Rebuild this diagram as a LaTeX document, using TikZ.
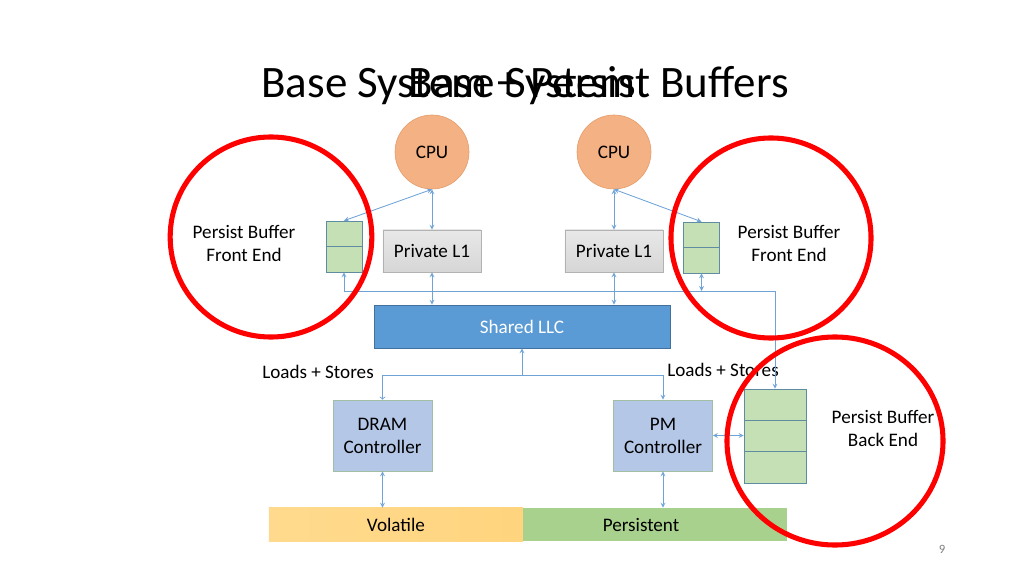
\documentclass[tikz,border=0pt]{standalone}
\usepackage{fontspec}
\setmainfont{Carlito}
\usetikzlibrary{shapes.geometric, arrows}
\definecolor{cpuorange}{HTML}{F4B183}
\definecolor{cpuedge}{HTML}{E39A68}
\definecolor{llcblue}{HTML}{5B9BD5}
\definecolor{llcedge}{HTML}{41719C}
\definecolor{ctrlblue}{HTML}{B4C7E7}
\definecolor{ctrledge}{HTML}{A3BDA3}
\definecolor{bufgreen}{HTML}{C5E0B4}
\definecolor{bufedge}{HTML}{5F8CA0}
\definecolor{wireblue}{HTML}{6FA3D6}
\definecolor{volyellow}{HTML}{FFDA8E}
\definecolor{volorange}{HTML}{FFD47E}
\definecolor{pergreen}{HTML}{A9D18E}
\tikzstyle{cpu} = [circle, minimum size=1.85cm, text centered, draw=cpuedge, fill=cpuorange, font=\fontsize{13.6}{16}\selectfont]
\tikzstyle{cache} = [rectangle, minimum width=2.45cm, minimum height=1.05cm, text centered, draw=gray!60, top color=gray!18, bottom color=gray!32, font=\fontsize{13.6}{16}\selectfont]
\tikzstyle{llcbox} = [rectangle, minimum width=7.4cm, minimum height=1.075cm, text centered, draw=llcedge, fill=llcblue, text=white, font=\fontsize{13.6}{16}\selectfont]
\tikzstyle{ctrl} = [rectangle, minimum width=2.475cm, minimum height=1.775cm, align=center, draw=ctrledge, fill=ctrlblue, font=\fontsize{13.6}{16.4}\selectfont]
\tikzstyle{frontend} = [rectangle, minimum width=0.9cm, minimum height=1.275cm, draw=bufedge, fill=bufgreen]
\tikzstyle{backend} = [rectangle, minimum width=1.55cm, minimum height=2.35cm, draw=bufedge, fill=bufgreen]
\tikzstyle{memory} = [rectangle, minimum height=0.825cm, text centered, font=\fontsize{13.6}{16}\selectfont]
\tikzstyle{label} = [align=center, font=\fontsize{13.6}{16.4}\selectfont]
\tikzstyle{arrow} = [draw=wireblue, line width=0.6pt, ->, >=stealth]
\tikzstyle{dbarrow} = [draw=wireblue, line width=0.6pt, <->, >=stealth]
\tikzstyle{ring} = [draw=red, line width=3.6pt]
\begin{document}
\begin{tikzpicture}[x=0.025cm, y=-0.025cm]
	\useasboundingbox (0,0) rectangle (1024,576);
	% title (two overlapping titles)
	\node (title) [font=\fontsize{32}{36}\selectfont, anchor=base] at (525,98) {Base System + Persist Buffers};
	\node (title2) [font=\fontsize{32}{36}\selectfont, anchor=base] at (522,98) {Base System};
	% cores
	\node (cpuA) [cpu] at (432,152) {CPU};
	\node (cpuB) [cpu] at (614,152) {CPU};
	\node (l1A) [cache] at (432,251) {Private L1};
	\node (l1B) [cache] at (614,251) {Private L1};
	\node (feA) [frontend] at (344,246.5) {};
	\node (feB) [frontend] at (701.5,247.5) {};
	\draw [bufedge] (feA.west) -- (feA.east);
	\draw [bufedge] (feB.west) -- (feB.east);
	\node (llc) [llcbox] at (522,326.5) {Shared LLC};
	% memory side
	\node (dram) [ctrl] at (382.5,435.5) {DRAM\\Controller};
	\node (pm) [ctrl] at (663,435.5) {PM\\Controller};
	\node (be) [backend] at (775,436) {};
	\draw [bufedge] (be.west |- 0,420.3) -- (be.east |- 0,420.3);
	\draw [bufedge] (be.west |- 0,451.7) -- (be.east |- 0,451.7);
	\node (vol) [memory, minimum width=6.35cm, left color=volyellow, right color=volorange] at (396,524.5) {Volatile};
	\node (per) [memory, minimum width=6.6cm, fill=pergreen] at (655,524.5) {\hspace*{-0.7cm}Persistent};
	% texts
	\node (pbA) [label] at (244,243) {Persist Buffer\\Front End};
	\node (pbB) [label] at (789,243) {Persist Buffer\\Front End};
	\node (pbC) [label] at (883,428) {Persist Buffer\\Back End};
	\node (lsA) [label] at (318,372) {Loads + Stores};
	\node (lsB) [label] at (723,370) {Loads + Stores};
	\node (page) [text=gray, font=\fontsize{9}{10}\selectfont] at (942,549) {9};
	% wires
	\coordinate (bus) at (775,291);
	\coordinate (split) at (522,375);
	\draw [dbarrow] (cpuA) -- (l1A);
	\draw [dbarrow] (cpuB) -- (l1B);
	\draw [dbarrow] (cpuA.south) -- (feA.north);
	\draw [dbarrow] (cpuB.south) -- (feB.north);
	\draw [dbarrow] (l1A.south) -- (l1A.south |- llc.north);
	\draw [dbarrow] (l1B.south) -- (l1B.south |- llc.north);
	\draw [dbarrow] (feA.south) |- (bus) -- (be.north);
	\draw [dbarrow] (feB.south) -- (feB.south |- bus);
	\draw [arrow] (split) -- (llc.south);
	\draw [draw=wireblue, line width=0.6pt, -to] (split) -| (dram.north);
	\draw [arrow] (split) -| (pm.north);
	\draw [dbarrow] (pm.east) -- (pm.east -| be.west);
	\draw [dbarrow] (dram.south) -- (dram.south |- vol.north);
	\draw [dbarrow] (pm.south) -- (pm.south |- per.north);
	% red rings
	\draw [ring] (271,237) ellipse [x radius=2.52cm, y radius=2.5cm];
	\draw [ring] (771,238) ellipse [x radius=2.5cm, y radius=2.5cm];
	\draw [ring] (835,441) ellipse [x radius=2.7cm, y radius=2.6cm];
\end{tikzpicture}
\end{document}
